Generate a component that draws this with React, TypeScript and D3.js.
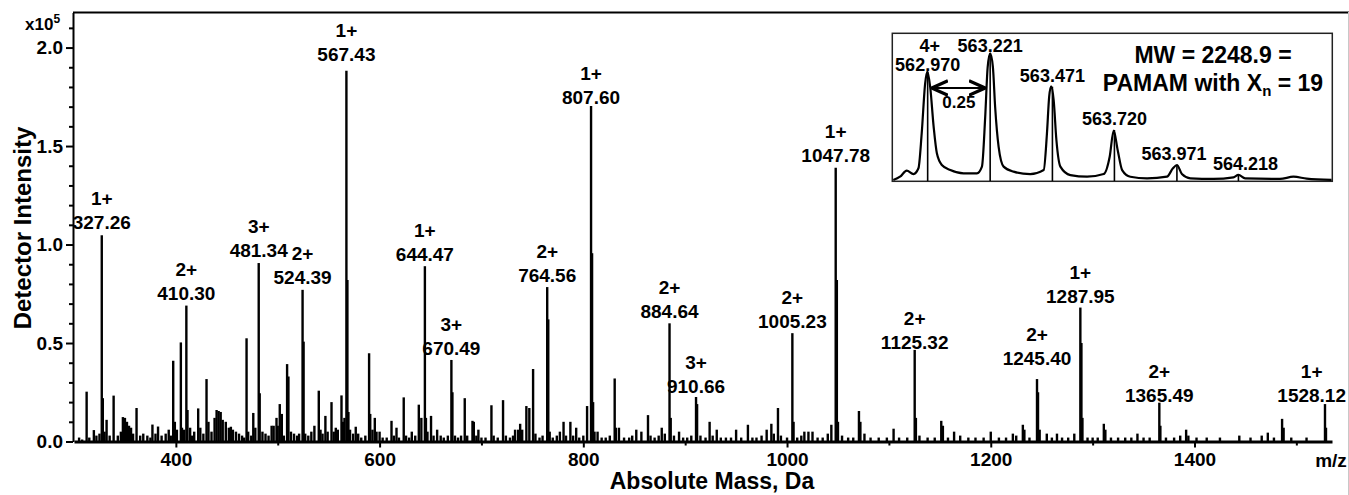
import { useEffect, useRef } from "react";
import * as d3 from "d3";

// labelled peaks (m/z, intensity x1e5, charge)
const labelMz = [327.26, 410.3, 481.34, 524.39, 567.43, 644.47, 670.49, 764.56, 807.6, 884.64, 910.66, 1005.23, 1047.78, 1125.32, 1245.4, 1287.95, 1365.49, 1528.12];
const labelIntensity = [1.047, 0.69, 0.906, 0.77, 1.882, 0.89, 0.414, 0.784, 1.703, 0.6, 0.226, 0.55, 1.39, 0.465, 0.317, 0.68, 0.197, 0.19];
const labelCharge = ["1+", "2+", "3+", "2+", "1+", "1+", "3+", "2+", "1+", "2+", "3+", "2+", "1+", "2+", "2+", "1+", "2+", "1+"];

// unlabelled peaks and baseline noise [m/z, intensity]
const minorPeaks: [number, number][] = [
  [305, 0.02], [308, 0.01], [312.4, 0.253], [315, 0.02], [319.5, 0.058], [322, 0.03], [325, 0.04], [328.3, 0.22], [330, 0.05], [332, 0.11], [335, 0.03], [338.9, 0.233], [343, 0.03], [346, 0.05],
  [348, 0.124], [350, 0.12], [352, 0.1], [354, 0.08], [356, 0.07], [358, 0.04], [361.4, 0.17], [365, 0.03], [368, 0.04], [372, 0.03], [375, 0.02],
  [377, 0.086], [380, 0.04], [382.5, 0.076], [386, 0.03], [390, 0.04], [393, 0.06], [395, 0.03], [397.4, 0.41], [399, 0.1], [401, 0.06], [404.9, 0.503],
  [406, 0.07], [408, 0.06], [411.4, 0.16], [414, 0.07], [416, 0.03], [418, 0.05], [421.9, 0.168], [424, 0.07], [427, 0.04], [430.1, 0.317], [432, 0.1],
  [435, 0.05], [438, 0.12], [440, 0.16], [442, 0.155], [444, 0.15], [446, 0.11], [449, 0.1], [452, 0.07], [454, 0.075], [456, 0.06], [459, 0.05],
  [462, 0.04], [465, 0.03], [467, 0.02], [469.4, 0.524], [471, 0.05], [474, 0.03], [476, 0.145], [478, 0.07], [482.3, 0.245], [485, 0.05], [488, 0.04],
  [491, 0.03], [494, 0.08], [496, 0.08], [498.8, 0.12], [500, 0.08], [502, 0.19], [504, 0.14], [506, 0.03], [509.2, 0.393], [510.5, 0.33], [513, 0.05],
  [516, 0.04], [519, 0.03], [521, 0.04], [525.4, 0.507], [527, 0.04], [530, 0.03], [533, 0.05], [536, 0.08], [540.3, 0.258], [542, 0.06], [544, 0.04],
  [546.8, 0.13], [549, 0.05], [552.8, 0.2], [555, 0.05], [557, 0.07], [559, 0.06], [562.6, 0.234], [564, 0.1], [565.5, 0.12], [568.4, 0.82],
  [569.4, 0.15], [571, 0.06], [574, 0.04], [576.6, 0.075], [579, 0.04], [582, 0.02], [586, 0.03], [589.7, 0.448], [590.8, 0.14], [593, 0.06],
  [595.3, 0.12], [597, 0.05], [600, 0.05], [603, 0.02], [607, 0.02], [611.7, 0.105], [614, 0.03], [616.6, 0.07], [619, 0.02], [623.7, 0.224],
  [626, 0.03], [629, 0.02], [631.6, 0.05], [635, 0.03], [638.5, 0.187], [641, 0.12], [645.5, 0.12], [647, 0.05], [650.5, 0.13], [653, 0.03],
  [656.5, 0.06], [660, 0.03], [663, 0.02], [667, 0.03], [671.5, 0.25], [674, 0.03], [677, 0.02], [680, 0.03], [683.6, 0.22], [686, 0.03],
  [691.2, 0.105], [692.5, 0.1], [695, 0.03], [697, 0.06], [700, 0.02], [704, 0.02], [709.8, 0.184], [712, 0.03], [716, 0.02], [721.2, 0.21],
  [724, 0.03], [728, 0.02], [731, 0.03], [733, 0.06], [736, 0.06], [738, 0.09], [740, 0.06], [744.1, 0.18], [747, 0.17], [750.7, 0.368],
  [753, 0.04], [757, 0.02], [760, 0.03], [765.6, 0.62], [767, 0.05], [770, 0.02], [774, 0.03], [777, 0.05], [780.6, 0.1], [783, 0.03],
  [787.3, 0.1], [790, 0.03], [793, 0.07], [796, 0.02], [800, 0.03], [803.7, 0.18], [808.6, 0.956], [809.6, 0.2], [811, 0.05], [814, 0.05],
  [818, 0.02], [822, 0.02], [826, 0.03], [830.8, 0.32], [832, 0.07], [835, 0.07], [840, 0.02], [845, 0.02], [848, 0.03], [852, 0.06],
  [857, 0.05], [863.5, 0.134], [866, 0.03], [870, 0.02], [874, 0.03], [877, 0.07], [880, 0.04], [885.8, 0.12], [889, 0.03], [894, 0.05],
  [898, 0.02], [902, 0.02], [906, 0.03], [911.7, 0.19], [915, 0.03], [920, 0.02], [924, 0.1], [927, 0.03], [931, 0.06], [935, 0.02],
  [940, 0.02], [945, 0.02], [950, 0.06], [955, 0.02], [961.6, 0.085], [966, 0.02], [970, 0.02], [975, 0.03], [980, 0.06], [984.6, 0.09],
  [987, 0.04], [991.1, 0.17], [994, 0.03], [1000, 0.02], [1006.4, 0.1], [1010, 0.02], [1014, 0.03], [1017, 0.05], [1021, 0.05], [1025, 0.05],
  [1030, 0.02], [1035, 0.02], [1040, 0.04], [1043.5, 0.085], [1048.9, 0.82], [1050, 0.1], [1054, 0.03], [1060, 0.02], [1065, 0.02],
  [1070.6, 0.155], [1072, 0.1], [1076, 0.04], [1082, 0.02], [1090, 0.02], [1098, 0.02], [1104.6, 0.065], [1110, 0.02], [1118, 0.02],
  [1126.5, 0.12], [1130, 0.03], [1138, 0.02], [1145, 0.02], [1151.4, 0.105], [1153, 0.08], [1158, 0.02], [1164, 0.05], [1170, 0.03],
  [1178, 0.02], [1185, 0.02], [1193, 0.02], [1200, 0.05], [1208, 0.02], [1215, 0.02], [1221.7, 0.04], [1225, 0.03], [1231.5, 0.085],
  [1233, 0.06], [1238, 0.02], [1246.4, 0.25], [1248, 0.06], [1255, 0.04], [1260, 0.02], [1265, 0.04], [1270, 0.02], [1276, 0.02],
  [1282, 0.04], [1289, 0.5], [1290, 0.12], [1295, 0.02], [1300, 0.02], [1305, 0.02], [1311, 0.09], [1312.5, 0.06], [1318, 0.02],
  [1325, 0.02], [1332, 0.02], [1338, 0.02], [1344, 0.04], [1350, 0.02], [1356, 0.02], [1366.5, 0.08], [1372, 0.02], [1380, 0.02],
  [1386, 0.03], [1391.8, 0.06], [1394, 0.03], [1402, 0.02], [1412, 0.02], [1425, 0.02], [1444, 0.03], [1455, 0.02], [1466, 0.03],
  [1472, 0.045], [1478, 0.02], [1486, 0.115], [1487.5, 0.07], [1495, 0.02], [1510, 0.02], [1529.1, 0.07],
];

const xTicks = [400, 600, 800, 1000, 1200, 1400];
const xMinorTicks = [500, 700, 900, 1100, 1300, 1500];
const yTicks = [0, 0.5, 1.0, 1.5, 2.0];
const yMinorTicks = [0.1, 0.2, 0.3, 0.4, 0.6, 0.7, 0.8, 0.9, 1.1, 1.2, 1.3, 1.4, 1.6, 1.7, 1.8, 1.9, 2.1];

// inset: isotope cluster of the 4+ ion
const insetMz = [562.97, 563.221, 563.471, 563.72, 563.971, 564.218];
const insetStick = [73.9, 86.3, 63.7, 34.5, 10.8, 4.1];
const profileMz = [562.832, 562.859, 562.886, 562.913, 562.933, 562.946, 562.96, 562.969, 562.98, 562.994, 563.007, 563.027, 563.061, 563.114, 563.168, 563.188, 563.201, 563.211, 563.221, 563.232, 563.241, 563.255, 563.275, 563.315, 563.382, 563.436, 563.449, 563.458, 563.466, 563.476, 563.487, 563.503, 563.543, 563.61, 563.677, 563.701, 563.717, 563.733, 563.751, 563.784, 563.851, 563.931, 563.955, 563.971, 563.991, 564.025, 564.118, 564.198, 564.218, 564.245, 564.385, 564.439, 564.492, 564.592];
const profileI = [0.7, 2.9, 7.0, 4.7, 8.6, 32, 66, 73.9, 63.7, 36.7, 18.7, 10.8, 7.4, 5.2, 5.2, 9.7, 43, 77, 86.3, 77, 50, 23, 9.7, 6.3, 4.7, 7.4, 32, 57, 64, 54.7, 27.7, 9.7, 4, 2.9, 4.7, 16.4, 34, 21, 7.4, 2.9, 1.8, 2.9, 8.6, 10.8, 4.7, 1.8, 1.4, 2.5, 4.1, 1.8, 1.4, 2.9, 1.6, 0.7];

// gap (px) between each peak top and the baseline of its number label
const labelGap = [6, 6, 6, 6, 10, 5, 5, 5, 2, 5, 4, 5, 6, 1, 14, 5, 1, 2];

export default function App() {
  const svgRef = useRef<SVGSVGElement>(null);

  useEffect(() => {
    const font = "'Liberation Sans', Arial, sans-serif";
    const svg = d3.select(svgRef.current);
    svg.selectAll("*").remove();
    svg.attr("font-family", font).attr("font-weight", "bold");

    const x = d3.scaleLinear().domain([300, 1535]).range([74, 1332]);
    const y = d3.scaleLinear().domain([0, 2.178]).range([441.5, 12.5]);

    // frame
    svg.append("line").attr("x1", 73).attr("x2", 1349).attr("y1", 12.5).attr("y2", 12.5)
      .attr("stroke", "#000").attr("stroke-width", 2);
    svg.append("line").attr("x1", 1348.5).attr("x2", 1348.5).attr("y1", 12).attr("y2", 495)
      .attr("stroke", "#c8c8c8").attr("stroke-width", 1);

    // spectrum sticks
    const sticks: [number, number][] = [...minorPeaks, ...labelMz.map((m, i) => [m, labelIntensity[i]] as [number, number])];
    svg.append("g").selectAll("line").data(sticks).join("line")
      .attr("x1", d => x(d[0])).attr("x2", d => x(d[0]))
      .attr("y1", y(0)).attr("y2", d => y(d[1]))
      .attr("stroke", "#000").attr("stroke-width", 2.4);

    // y axis
    const gy = svg.append("g").attr("transform", "translate(73,0)")
      .call(d3.axisLeft(y).tickValues(yTicks).tickSize(7).tickSizeOuter(0).tickPadding(3).tickFormat(d3.format(".1f")));
    gy.attr("font-family", font).attr("font-size", 19).attr("font-weight", "bold");
    gy.select(".domain").attr("stroke-width", 2);
    gy.selectAll(".tick line").attr("stroke-width", 2);
    const gym = svg.append("g").attr("transform", "translate(73,0)")
      .call(d3.axisLeft(y).tickValues(yMinorTicks).tickSize(4).tickFormat(() => ""));
    gym.select(".domain").remove();
    gym.selectAll(".tick line").attr("stroke-width", 2);

    // x axis
    const gx = svg.append("g").attr("transform", `translate(0,${y(0)})`)
      .call(d3.axisBottom(x).tickValues(xTicks).tickSize(6).tickSizeOuter(0).tickPadding(5).tickFormat(d3.format("d")));
    gx.attr("font-family", font).attr("font-size", 19).attr("font-weight", "bold");
    gx.select(".domain").attr("stroke-width", 3);
    gx.selectAll(".tick line").attr("stroke-width", 2);
    const gxm = svg.append("g").attr("transform", `translate(0,${y(0)})`)
      .call(d3.axisBottom(x).tickValues(xMinorTicks).tickSize(4).tickFormat(() => ""));
    gxm.select(".domain").remove();
    gxm.selectAll(".tick line").attr("stroke-width", 2);

    svg.append("text").attr("x", 1331).attr("y", 467).attr("text-anchor", "middle")
      .attr("font-size", 19).text("m/z");

    // axis titles
    svg.append("text").attr("x", 712).attr("y", 489).attr("text-anchor", "middle")
      .attr("font-size", 23).text("Absolute Mass, Da");
    svg.append("text").attr("transform", "translate(31,228) rotate(-90)").attr("text-anchor", "middle")
      .attr("font-size", 24).text("Detector Intensity");
    const mult = svg.append("text").attr("x", 25).attr("y", 30).attr("font-size", 17);
    mult.append("tspan").text("x10");
    mult.append("tspan").attr("dy", -7).attr("font-size", 12).text("5");

    // peak labels, kept inside the right edge
    const lab = svg.append("g").attr("text-anchor", "middle").attr("font-size", 19);
    labelMz.forEach((m, i) => {
      const base = y(labelIntensity[i]) - labelGap[i];
      const num = lab.append("text").attr("x", x(m)).attr("y", base).text(m.toFixed(2));
      const w = (num.node() as SVGTextElement).getComputedTextLength();
      const cx = Math.min(x(m), 1346 - w / 2);
      num.attr("x", cx);
      lab.append("text").attr("x", cx).attr("y", base - 24).text(labelCharge[i]);
    });

    // inset
    const ix = d3.scaleLinear().domain([562.828, 564.595]).range([892.3, 1332.3]);
    const iy = d3.scaleLinear().domain([0, 100]).range([181, 33]);
    const inset = svg.append("g");
    inset.append("rect").attr("x", 892.3).attr("y", 33.3).attr("width", 440).attr("height", 148)
      .attr("fill", "#fff").attr("stroke", "#222").attr("stroke-width", 1.5);
    inset.append("g").selectAll("line").data(insetMz).join("line")
      .attr("x1", d => ix(d)).attr("x2", d => ix(d))
      .attr("y1", iy(0)).attr("y2", (d, i) => iy(insetStick[i]))
      .attr("stroke", "#000").attr("stroke-width", 1.6);
    const line = d3.line<number>().x(d => ix(d)).y((d, i) => iy(profileI[i])).curve(d3.curveMonotoneX);
    inset.append("path").attr("d", line(profileMz)).attr("fill", "none")
      .attr("stroke", "#000").attr("stroke-width", 2.2).attr("stroke-linejoin", "round");

    const ilab = inset.append("g").attr("text-anchor", "middle").attr("font-size", 18);
    insetMz.forEach((m, i) => {
      ilab.append("text").attr("x", ix(m) + (i === 5 ? 7 : i === 4 ? -3 : 0)).attr("y", iy(insetStick[i]) - (i < 2 ? 1 : 5))
        .text(m.toFixed(3));
    });
    ilab.append("text").attr("x", ix(insetMz[0]) + 2).attr("y", iy(insetStick[1]) - 1).text("4+");

    // 0.25 spacing arrow
    const defs = svg.append("defs");
    defs.append("marker").attr("id", "ah").attr("viewBox", "0 0 10 10").attr("refX", 9).attr("refY", 5)
      .attr("markerWidth", 9).attr("markerHeight", 9).attr("orient", "auto-start-reverse")
      .append("path").attr("d", "M0,1 L9,5 L0,9").attr("fill", "none").attr("stroke", "#000").attr("stroke-width", 1.8);
    inset.append("line").attr("x1", ix(insetMz[0]) + 4).attr("x2", ix(insetMz[1]) - 5)
      .attr("y1", 88).attr("y2", 88).attr("stroke", "#000").attr("stroke-width", 2)
      .attr("marker-start", "url(#ah)").attr("marker-end", "url(#ah)");
    inset.append("text").attr("x", (ix(insetMz[0]) + ix(insetMz[1])) / 2).attr("y", 108)
      .attr("text-anchor", "middle").attr("font-size", 17).text("0.25");

    const mw = inset.append("g").attr("text-anchor", "middle").attr("font-size", 23);
    mw.append("text").attr("x", 1213).attr("y", 63).text("MW = 2248.9 =");
    const pm = mw.append("text").attr("x", 1213).attr("y", 91);
    pm.append("tspan").text("PAMAM with X");
    pm.append("tspan").attr("dy", 5).attr("font-size", 15).text("n");
    pm.append("tspan").attr("dy", -5).text(" = 19");
  }, []);

  return (
    <svg ref={svgRef} width={1349} height={495}
      style={{ position: "absolute", left: 0, top: 0, background: "#fff" }} />
  );
}
